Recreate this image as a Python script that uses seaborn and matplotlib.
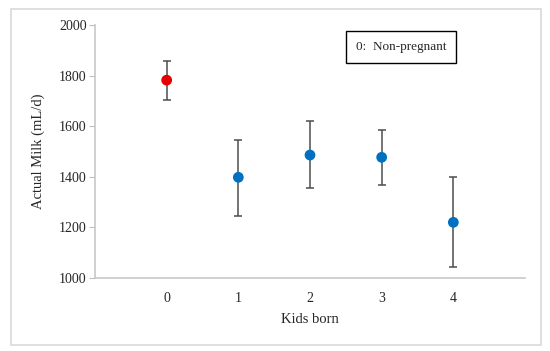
import matplotlib
matplotlib.use("Agg")
import matplotlib.pyplot as plt
import seaborn as sns
import pandas as pd
from matplotlib.patches import Rectangle

# data
kids = [0, 1, 2, 3, 4]
milk = [1782, 1398, 1486, 1477, 1220]
err_low = [77, 152, 132, 109, 175]
err_high = [75, 147, 135, 108, 178]
group = ["Non-pregnant", "Pregnant", "Pregnant", "Pregnant", "Pregnant"]
yticks = [1000, 1200, 1400, 1600, 1800, 2000]

df = pd.DataFrame({"kids": kids, "milk": milk, "group": group})

sns.set_style("white")
plt.rcParams["font.family"] = ["Liberation Serif", "DejaVu Serif"]

fig = plt.figure(figsize=(5.5, 3.51), dpi=100)
ax = fig.add_axes([95/550, 1-278/351, 430/550, 253/351])

# outer frame
fig.patches.append(Rectangle((11/550, 1-345/351), 530/550, 336/351,
                             transform=fig.transFigure, fill=False,
                             edgecolor="#d9d9d9", linewidth=1.2))

ax.errorbar(df["kids"], df["milk"], yerr=[err_low, err_high], fmt="none",
            ecolor="#4d4d4d", elinewidth=1.1, capsize=3, capthick=1.1, zorder=1)
sns.scatterplot(data=df, x="kids", y="milk", hue="group",
                palette={"Non-pregnant": "#e60000", "Pregnant": "#0070c0"},
                s=60, edgecolor="none", legend=False, ax=ax, zorder=2)

ax.set_xlim(-1, 5)
ax.set_ylim(1000, 2000)
ax.set_xticks(kids)
ax.set_yticks(yticks)
ax.tick_params(axis="x", length=0, labelsize=10, pad=10)
ax.tick_params(axis="y", length=4, color="#bfbfbf", labelsize=10, left=True, pad=2)
for s in ["top", "right"]:
    ax.spines[s].set_visible(False)
for s in ["left", "bottom"]:
    ax.spines[s].set_color("#c8c8c8")
    ax.spines[s].set_linewidth(1.2)

ax.set_xlabel("Kids born", fontsize=10.5, labelpad=6)
ax.set_ylabel("Actual Milk (mL/d)", fontsize=10.5, labelpad=10)

ax.text(0.712, 0.913, "0:  Non-pregnant", transform=ax.transAxes,
        ha="center", va="center", fontsize=9.5,
        bbox=dict(boxstyle="square,pad=0.75", facecolor="white",
                  edgecolor="black", linewidth=1))

fig.savefig("out.png", dpi=100)
